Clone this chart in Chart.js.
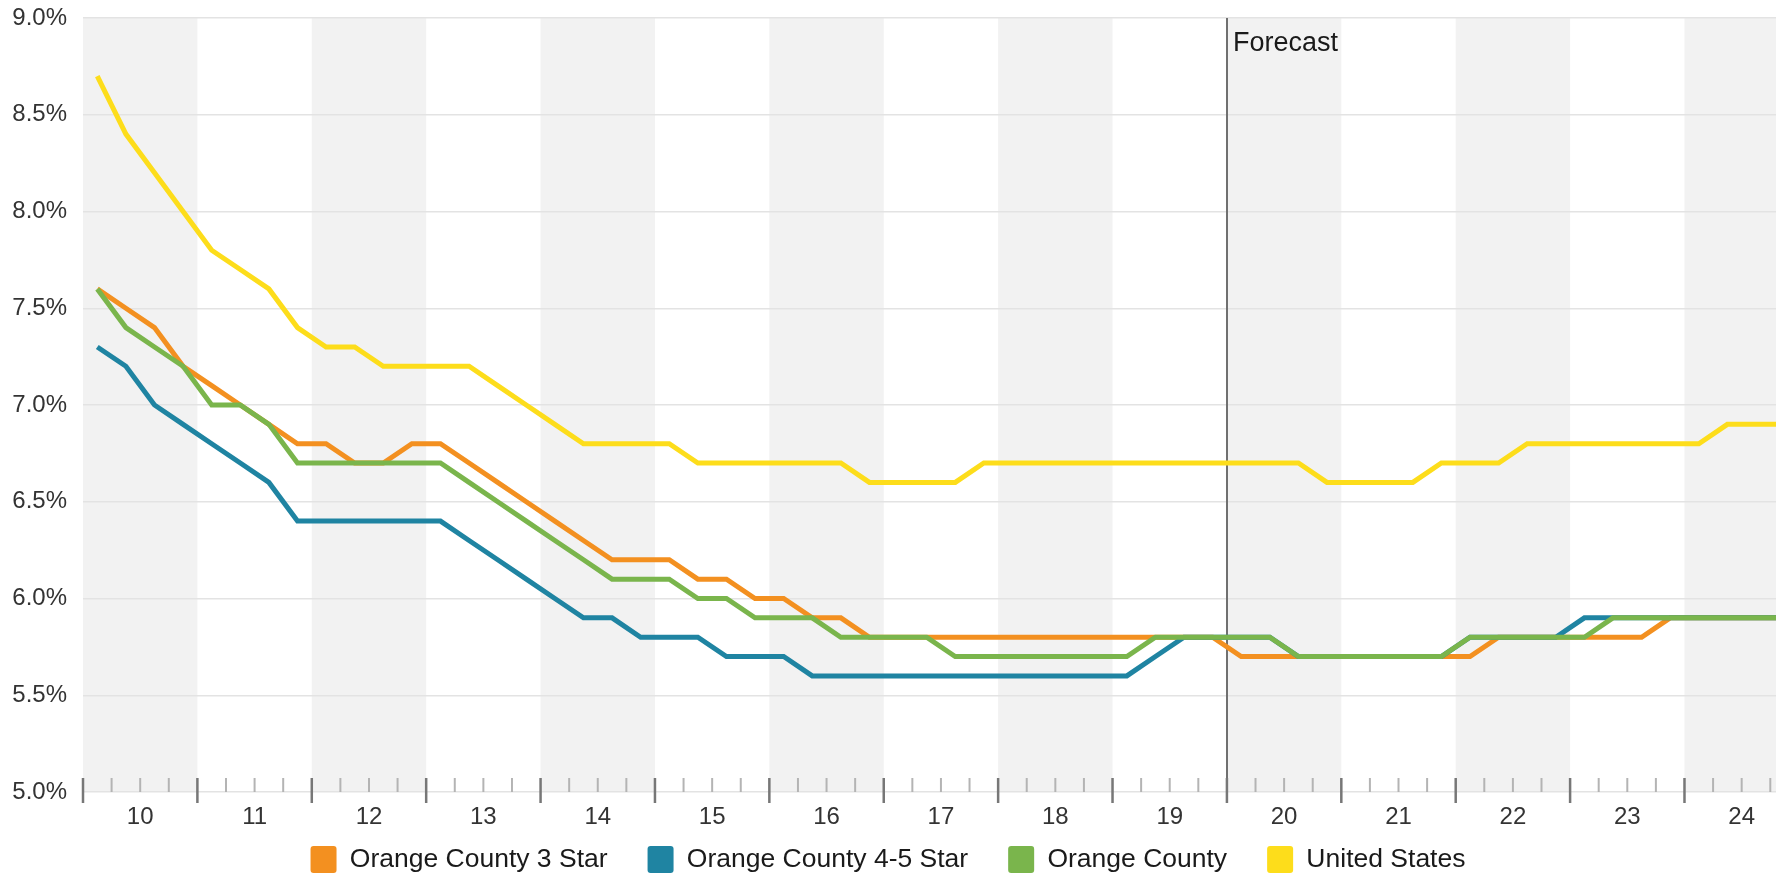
<!DOCTYPE html>
<html>
<head>
<meta charset="utf-8">
<title>Orange County</title>
<script src="https://cdn.jsdelivr.net/npm/chart.js@4.4.1/dist/chart.umd.min.js"></script>
<style>
  html, body { margin: 0; padding: 0; background: #fff; }
  #wrap { position: relative; width: 1780px; height: 874px; }
</style>
</head>
<body>
<div id="wrap"><canvas id="rateChart"></canvas></div>
<script>
// years on the x axis, every year split in four quarters
const years = ['10', '11', '12', '13', '14', '15', '16', '17', '18', '19', '20', '21', '22', '23', '24'];
const quarterNames = ['Q1', 'Q2', 'Q3', 'Q4'];
const quarters = years.flatMap(y => quarterNames.map(q => y + ' ' + q));

// quarterly rates in %, one value per quarter (10 Q1 .. 24 Q4)
const oc3Star = [
  7.6, 7.5, 7.4, 7.2, 7.1, 7.0, 6.9, 6.8, 6.8, 6.7,
  6.7, 6.8, 6.8, 6.7, 6.6, 6.5, 6.4, 6.3, 6.2, 6.2,
  6.2, 6.1, 6.1, 6.0, 6.0, 5.9, 5.9, 5.8, 5.8, 5.8,
  5.8, 5.8, 5.8, 5.8, 5.8, 5.8, 5.8, 5.8, 5.8, 5.8,
  5.7, 5.7, 5.7, 5.7, 5.7, 5.7, 5.7, 5.7, 5.7, 5.8,
  5.8, 5.8, 5.8, 5.8, 5.8, 5.9, 5.9, 5.9, 5.9, 5.9
];
const oc45Star = [
  7.3, 7.2, 7.0, 6.9, 6.8, 6.7, 6.6, 6.4, 6.4, 6.4,
  6.4, 6.4, 6.4, 6.3, 6.2, 6.1, 6.0, 5.9, 5.9, 5.8,
  5.8, 5.8, 5.7, 5.7, 5.7, 5.6, 5.6, 5.6, 5.6, 5.6,
  5.6, 5.6, 5.6, 5.6, 5.6, 5.6, 5.6, 5.7, 5.8, 5.8,
  5.8, 5.8, 5.7, 5.7, 5.7, 5.7, 5.7, 5.7, 5.8, 5.8,
  5.8, 5.8, 5.9, 5.9, 5.9, 5.9, 5.9, 5.9, 5.9, 5.9
];
const orangeCounty = [
  7.6, 7.4, 7.3, 7.2, 7.0, 7.0, 6.9, 6.7, 6.7, 6.7,
  6.7, 6.7, 6.7, 6.6, 6.5, 6.4, 6.3, 6.2, 6.1, 6.1,
  6.1, 6.0, 6.0, 5.9, 5.9, 5.9, 5.8, 5.8, 5.8, 5.8,
  5.7, 5.7, 5.7, 5.7, 5.7, 5.7, 5.7, 5.8, 5.8, 5.8,
  5.8, 5.8, 5.7, 5.7, 5.7, 5.7, 5.7, 5.7, 5.8, 5.8,
  5.8, 5.8, 5.8, 5.9, 5.9, 5.9, 5.9, 5.9, 5.9, 5.9
];
const unitedStates = [
  8.7, 8.4, 8.2, 8.0, 7.8, 7.7, 7.6, 7.4, 7.3, 7.3,
  7.2, 7.2, 7.2, 7.2, 7.1, 7.0, 6.9, 6.8, 6.8, 6.8,
  6.8, 6.7, 6.7, 6.7, 6.7, 6.7, 6.7, 6.6, 6.6, 6.6,
  6.6, 6.7, 6.7, 6.7, 6.7, 6.7, 6.7, 6.7, 6.7, 6.7,
  6.7, 6.7, 6.7, 6.6, 6.6, 6.6, 6.6, 6.7, 6.7, 6.7,
  6.8, 6.8, 6.8, 6.8, 6.8, 6.8, 6.8, 6.9, 6.9, 6.9
];

const seriesNames = ['Orange County 3 Star', 'Orange County 4-5 Star', 'Orange County', 'United States'];
const seriesColors = ['#f39020', '#1f84a2', '#7ab54c', '#fddd1b'];
const forecastStart = '20 Q1';

Chart.defaults.font.family = '"Liberation Sans", Arial, sans-serif';

// grey band on every other year, forecast divider, quarter tick marks
const yearBands = {
  id: 'yearBands',
  afterLayout(chart) {
    // legend padding doubles as item spacing, so grow the legend box upward
    // to bring the row back under the axis labels
    const lg = chart.legend;
    if (lg) { lg.top -= 26; lg.height += 26; }
  },
  beforeDraw(chart) {
    const { ctx, chartArea: a, scales: { x } } = chart;
    ctx.save();
    ctx.beginPath();
    ctx.rect(a.left, a.top, a.right - a.left, a.bottom - a.top);
    ctx.clip();
    ctx.fillStyle = '#f2f2f2';
    years.forEach((y, k) => {
      if (k % 2) return;
      const x0 = x.getPixelForValue(k * 4);
      const x1 = x.getPixelForValue(k * 4 + 4);
      ctx.fillRect(x0, a.top, x1 - x0, a.bottom - a.top);
    });
    ctx.restore();
  },
  beforeDatasetsDraw(chart) {
    const { ctx, chartArea: a, scales: { x } } = chart;
    const fx = Math.round(x.getPixelForValue(quarters.indexOf(forecastStart)));
    ctx.save();
    ctx.strokeStyle = '#707070';
    ctx.lineWidth = 2;
    ctx.beginPath();
    ctx.moveTo(fx, a.top);
    ctx.lineTo(fx, a.bottom + 11);
    ctx.stroke();
    ctx.fillStyle = '#1a1a1a';
    ctx.font = '27px "Liberation Sans", Arial, sans-serif';
    ctx.textBaseline = 'alphabetic';
    ctx.fillText('Forecast', fx + 6, a.top + 33);
    ctx.restore();
  },
  afterDraw(chart) {
    const { ctx, chartArea: a, scales: { x } } = chart;
    ctx.save();
    for (let q = 0; q <= quarters.length; q++) {
      const px = x.getPixelForValue(q);
      if (px > a.right + 1) break;
      const major = q % 4 === 0;
      ctx.strokeStyle = major ? '#777777' : '#b4b4b4';
      ctx.lineWidth = major ? 2.5 : 2;
      ctx.beginPath();
      ctx.moveTo(px, a.bottom - 14);
      ctx.lineTo(px, major ? a.bottom + 11 : a.bottom);
      ctx.stroke();
    }
    ctx.restore();
  }
};

new Chart(document.getElementById('rateChart'), {
  type: 'line',
  data: {
    datasets: [oc3Star, oc45Star, orangeCounty, unitedStates].map((vals, i) => ({
      label: seriesNames[i],
      // each value sits in the middle of its quarter
      data: vals.map((v, q) => ({ x: q + 0.5, y: v })),
      borderColor: seriesColors[i],
      backgroundColor: seriesColors[i],
      borderWidth: 5,
      pointRadius: 0,
      tension: 0,
      clip: 0,
      order: 4 - i // later series on top
    }))
  },
  options: {
    responsive: true,
    maintainAspectRatio: false,
    animation: false,
    devicePixelRatio: 1,
    layout: { padding: { top: 18, right: 4, left: 0, bottom: 0 } },
    plugins: {
      legend: {
        position: 'bottom',
        maxHeight: 42,
        labels: {
          boxWidth: 26,
          boxHeight: 27,
          padding: 40,
          color: '#1a1a1a',
          font: { size: 26.5 },
          useBorderRadius: true,
          borderRadius: 3,
          generateLabels: chart => chart.data.datasets.map((ds, i) => ({
            text: ds.label,
            fillStyle: ds.borderColor,
            strokeStyle: ds.borderColor,
            lineWidth: 0,
            hidden: false,
            datasetIndex: i,
            borderRadius: 3,
            fontColor: '#1a1a1a'
          }))
        }
      },
      tooltip: { enabled: false }
    },
    scales: {
      x: {
        type: 'linear',
        min: 0,
        max: 59.2,
        afterBuildTicks: s => { s.ticks = years.map((y, k) => ({ value: k * 4 + 2 })); },
        afterFit: s => { s.height = 40; },
        grid: { display: false, drawTicks: false },
        border: { display: false },
        ticks: {
          callback: (v, i) => years[i],
          padding: 11,
          maxRotation: 0,
          autoSkip: false,
          color: '#333',
          font: { size: 24 }
        }
      },
      y: {
        min: 5,
        max: 9,
        afterFit: s => { s.width = 83; s.paddingTop = 0; s.paddingBottom = 0; },
        grid: { color: '#e3e3e3', lineWidth: 1.5, drawTicks: false },
        border: { display: false },
        ticks: {
          stepSize: 0.5,
          padding: 16,
          color: '#333',
          font: { size: 24 },
          callback: v => v.toFixed(1) + '%'
        }
      }
    }
  },
  plugins: [yearBands]
});
</script>
</body>
</html>
